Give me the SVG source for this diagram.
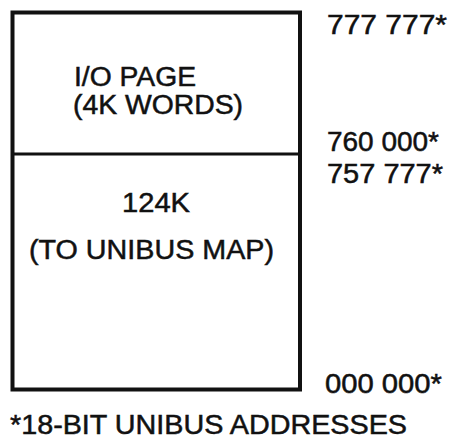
<svg xmlns="http://www.w3.org/2000/svg" width="451" height="443" viewBox="0 0 451 443">
<style>
text{font-family:"Liberation Sans",Arial,sans-serif;font-size:27px;fill:#111;stroke:#111;stroke-width:0.5;}
.box{fill:none;stroke:#111;stroke-width:4;}
.div{stroke:#111;stroke-width:3;}
</style>
<rect width="451" height="443" fill="#fff"/>
<g id="memory-map">
<rect class="box" x="12.5" y="12.5" width="287.5" height="377"/>
</g>
<g id="io-page">
<text x="74" y="86" textLength="122" lengthAdjust="spacingAndGlyphs">I/O PAGE</text>
<text x="73" y="114" textLength="170" lengthAdjust="spacingAndGlyphs">(4K WORDS)</text>
</g>
<g id="divider"><line class="div" x1="12" y1="154" x2="300" y2="154"/></g>
<g id="lower-memory">
<text x="122" y="212" textLength="68" lengthAdjust="spacingAndGlyphs">124K</text>
<text x="29" y="259" textLength="245" lengthAdjust="spacingAndGlyphs">(TO UNIBUS MAP)</text>
</g>
<g id="addresses">
<text x="327" y="34" textLength="120" lengthAdjust="spacingAndGlyphs">777 777*</text>
<text x="327" y="151" textLength="112" lengthAdjust="spacingAndGlyphs">760 000*</text>
<text x="327" y="183" textLength="116" lengthAdjust="spacingAndGlyphs">757 777*</text>
<text x="325" y="393" textLength="117" lengthAdjust="spacingAndGlyphs">000 000*</text>
</g>
<g id="footnote">
<text x="10" y="434" textLength="397" lengthAdjust="spacingAndGlyphs">*18-BIT UNIBUS ADDRESSES</text>
</g>
</svg>
